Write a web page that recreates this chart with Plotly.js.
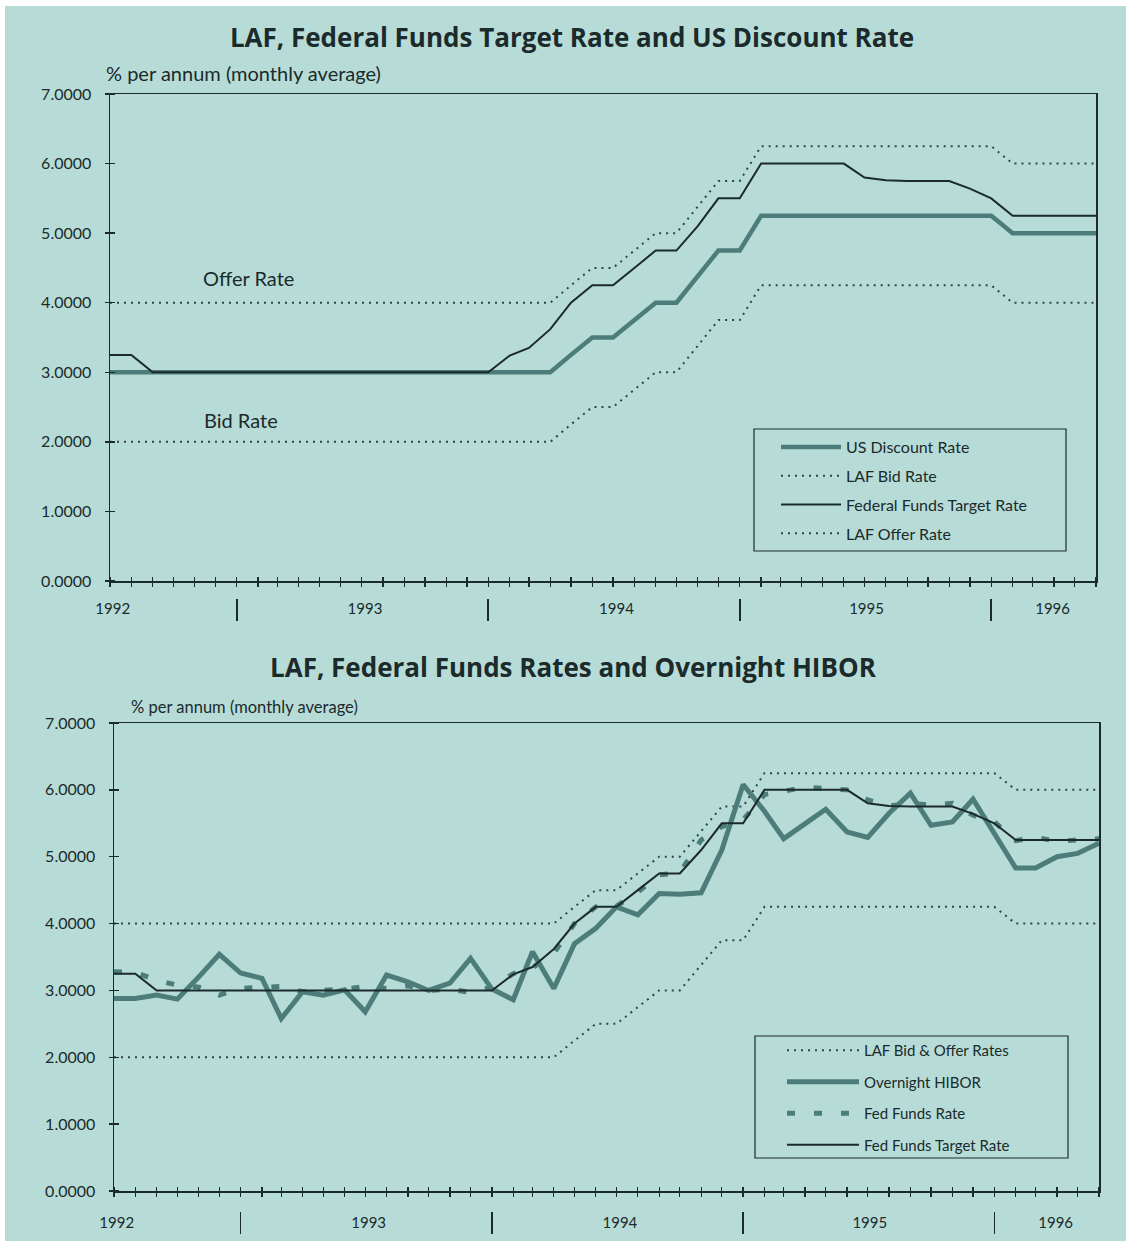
<!DOCTYPE html>
<html><head><meta charset="utf-8">
<script src="https://cdn.plot.ly/plotly-3.0.1.min.js"></script>
<style>
html,body{margin:0;padding:0;background:#ffffff;}
#chart{position:absolute;left:5px;top:6px;width:1121px;height:1235px;}
</style></head><body><div id="chart"></div>
<script>
// ---------- data (monthly averages, % per annum) ----------
const months = [
 '1992-07','1992-08','1992-09','1992-10','1992-11','1992-12',
 '1993-01','1993-02','1993-03','1993-04','1993-05','1993-06','1993-07','1993-08','1993-09','1993-10','1993-11','1993-12',
 '1994-01','1994-02','1994-03','1994-04','1994-05','1994-06','1994-07','1994-08','1994-09','1994-10','1994-11','1994-12',
 '1995-01','1995-02','1995-03','1995-04','1995-05','1995-06','1995-07','1995-08','1995-09','1995-10','1995-11','1995-12',
 '1996-01','1996-02','1996-03','1996-04','1996-05','1996-06'];

const usDiscount = [
 3.00,3.00,3.00,3.00,3.00,3.00,
 3.00,3.00,3.00,3.00,3.00,3.00,3.00,3.00,3.00,3.00,3.00,3.00,
 3.00,3.00,3.00,3.00,3.25,3.50,3.50,3.75,4.00,4.00,4.38,4.75,
 4.75,5.25,5.25,5.25,5.25,5.25,5.25,5.25,5.25,5.25,5.25,5.25,
 5.25,5.00,5.00,5.00,5.00,5.00];

const lafBid = [
 2.00,2.00,2.00,2.00,2.00,2.00,
 2.00,2.00,2.00,2.00,2.00,2.00,2.00,2.00,2.00,2.00,2.00,2.00,
 2.00,2.00,2.00,2.00,2.25,2.50,2.50,2.75,3.00,3.00,3.38,3.75,
 3.75,4.25,4.25,4.25,4.25,4.25,4.25,4.25,4.25,4.25,4.25,4.25,
 4.25,4.00,4.00,4.00,4.00,4.00];

const lafOffer = [
 4.00,4.00,4.00,4.00,4.00,4.00,
 4.00,4.00,4.00,4.00,4.00,4.00,4.00,4.00,4.00,4.00,4.00,4.00,
 4.00,4.00,4.00,4.00,4.25,4.50,4.50,4.75,5.00,5.00,5.38,5.75,
 5.75,6.25,6.25,6.25,6.25,6.25,6.25,6.25,6.25,6.25,6.25,6.25,
 6.25,6.00,6.00,6.00,6.00,6.00];

const fedTarget = [
 3.25,3.25,3.00,3.00,3.00,3.00,
 3.00,3.00,3.00,3.00,3.00,3.00,3.00,3.00,3.00,3.00,3.00,3.00,
 3.00,3.24,3.35,3.62,4.00,4.25,4.25,4.50,4.75,4.75,5.10,5.50,
 5.50,6.00,6.00,6.00,6.00,6.00,5.80,5.76,5.75,5.75,5.75,5.64,
 5.50,5.25,5.25,5.25,5.25,5.25];

const fedFunds = [
 3.28,3.27,3.15,3.08,3.05,2.93,
 3.03,3.04,3.06,2.98,3.00,3.02,3.06,3.03,3.07,3.00,3.02,2.97,
 3.05,3.25,3.34,3.56,4.00,4.25,4.26,4.47,4.73,4.76,5.25,5.45,
 5.55,5.93,5.98,6.04,6.02,6.00,5.85,5.76,5.80,5.77,5.80,5.62,
 5.52,5.24,5.29,5.23,5.25,5.27];

const hibor = [
 2.88,2.88,2.93,2.87,3.20,3.54,
 3.26,3.18,2.58,2.98,2.93,3.01,2.68,3.23,3.13,3.00,3.11,3.48,
 3.02,2.86,3.58,3.03,3.70,3.93,4.25,4.13,4.45,4.44,4.46,5.10,
 6.08,5.68,5.27,5.49,5.71,5.37,5.29,5.65,5.95,5.47,5.52,5.86,
 5.35,4.83,4.83,5.00,5.05,5.20];

const yearLabels = ['1992','1993','1994','1995','1996'];
const yearStarts = ['1993-01-01','1994-01-01','1995-01-01','1996-01-01'];
const yTickVals = [0,1,2,3,4,5,6,7];

// ---------- geometry helpers (pixel -> paper) ----------
const W = 1121, H = 1235, OX = 5, OY = 6;
const fx = p => (p - OX) / W;
const fy = p => 1 - (p - OY) / H;

const FONT = 'Lato, "Open Sans", "DejaVu Sans", sans-serif';
const TFONT = '"Open Sans", Lato, sans-serif';
const BG = '#b7dcd8';
const TEAL = '#4d7d7a';
const DARK = '#1b2a2a';
const DOTC = '#2c4645';
const DOT = '2px,5px';
const RANGE = ['1992-07-01','1996-06-01'];
const yearLabelPos = ['1992-07-05','1993-07-06','1994-07-06','1995-07-04','1996-03-30'];

function tr(y, name, xa, ya, leg, group, rank, line, showlegend) {
  return {x: months, y: y, name: name, type: 'scatter', mode: 'lines',
    xaxis: xa, yaxis: ya, legend: leg, legendgroup: group, legendrank: rank,
    showlegend: showlegend !== false, line: line, hoverinfo: 'skip'};
}
// empty carrier traces so that the tick-only overlay axes get drawn
function carrier(xa, ya) {
  return {x: [], y: [], type: 'scatter', mode: 'lines', xaxis: xa, yaxis: ya,
    showlegend: false, hoverinfo: 'skip'};
}

const data = [
  tr(usDiscount, 'US Discount Rate', 'x', 'y', 'legend', 'a', 1, {color: TEAL, width: 4.5}),
  tr(lafBid, 'LAF Bid Rate', 'x', 'y', 'legend', 'b', 2, {color: DOTC, width: 2, dash: DOT}),
  tr(lafOffer, 'LAF Offer Rate', 'x', 'y', 'legend', 'd', 4, {color: DOTC, width: 2, dash: DOT}),
  tr(fedTarget, 'Federal Funds Target Rate', 'x', 'y', 'legend', 'c', 3, {color: DARK, width: 2}),

  tr(lafBid, 'LAF Bid & Offer Rates', 'x2', 'y2', 'legend2', 'e', 1, {color: DOTC, width: 2, dash: DOT}),
  tr(lafOffer, 'LAF Offer Rate', 'x2', 'y2', 'legend2', 'e', 1, {color: DOTC, width: 2, dash: DOT}, false),
  tr(fedFunds, 'Fed Funds Rate', 'x2', 'y2', 'legend2', 'g', 3, {color: TEAL, width: 5, dash: '8px,19px'}),
  tr(hibor, 'Overnight HIBOR', 'x2', 'y2', 'legend2', 'f', 2, {color: TEAL, width: 5}),
  tr(fedTarget, 'Fed Funds Target Rate', 'x2', 'y2', 'legend2', 'h', 4, {color: DARK, width: 2}),

  carrier('x3', 'y'), carrier('x5', 'y'), carrier('x', 'y3'),
  carrier('x4', 'y2'), carrier('x6', 'y2'), carrier('x2', 'y4')
];

function mainX(dom, anchor, lblLen) {
  return {domain: dom, anchor: anchor, type: 'date', range: RANGE, showline: true, mirror: true,
    linecolor: DARK, linewidth: 1.5, showgrid: false, zeroline: false,
    tickmode: 'array', tickvals: yearLabelPos, ticktext: yearLabels,
    ticks: 'outside', ticklen: lblLen, tickcolor: 'rgba(0,0,0,0)',
    tickfont: {family: FONT, size: 15, color: DARK}};
}
function tickX(over, pos, vals, len, w) {
  return {overlaying: over, anchor: 'free', position: pos, type: 'date', range: RANGE,
    showline: false, showgrid: false, zeroline: false, showticklabels: false,
    tickmode: 'array', tickvals: vals, ticks: 'outside', ticklen: len, tickwidth: w, tickcolor: DARK};
}
function mainY(dom, anchor) {
  return {domain: dom, anchor: anchor, range: [0, 7], showline: true, mirror: true,
    linecolor: DARK, linewidth: 1.5, showgrid: false, zeroline: false,
    tickmode: 'array', tickvals: yTickVals, tickformat: '.4f',
    ticks: 'outside', ticklen: 14, tickcolor: 'rgba(0,0,0,0)',
    tickfont: {family: FONT, size: 16, color: DARK}};
}
function tickY(over, pos) {
  return {overlaying: over, anchor: 'free', position: pos, side: 'left', range: [0, 7],
    showline: false, showgrid: false, zeroline: false, showticklabels: false,
    tickmode: 'array', tickvals: yTickVals, ticks: 'outside', ticklen: 10, tickwidth: 1.3, tickcolor: DARK};
}

const legendBase = {xanchor: 'left', yanchor: 'top', bgcolor: 'rgba(0,0,0,0)',
  borderwidth: 0, traceorder: 'grouped'};

// legend frames
function frame(x0, x1, y0, y1) {
  return {type: 'rect', xref: 'paper', yref: 'paper', x0: fx(x0), x1: fx(x1), y0: fy(y1), y1: fy(y0),
    line: {color: DARK, width: 1.2}, fillcolor: 'rgba(0,0,0,0)', layer: 'above'};
}

const layout = {
  width: 1121, height: 1235,
  margin: {l: 0, r: 0, t: 0, b: 0},
  paper_bgcolor: BG, plot_bgcolor: 'rgba(0,0,0,0)',
  font: {family: FONT, color: DARK},
  showlegend: true,
  title: {text: 'LAF, Federal Funds Target Rate and US Discount Rate',
    x: fx(572), xanchor: 'center', y: fy(38), yanchor: 'middle',
    font: {family: TFONT, size: 26, weight: 700, color: DARK}},

  xaxis: mainX([fx(110), fx(1096)], 'y', 13),
  yaxis: mainY([fy(581), fy(94)], 'x'),
  xaxis3: tickX('x', fy(576), months, 10, 1.3),
  xaxis5: tickX('x', fy(598), yearStarts, 22, 1.6),
  yaxis3: tickY('y', fx(115)),

  xaxis2: mainX([fx(114), fx(1099)], 'y2', 17),
  yaxis2: mainY([fy(1191), fy(723)], 'x2'),
  xaxis4: tickX('x2', fy(1186), months, 10, 1.3),
  xaxis6: tickX('x2', fy(1211), yearStarts, 22, 1.6),
  yaxis4: tickY('y2', fx(119)),

  legend: Object.assign({}, legendBase, {x: fx(754), y: fy(430),
    font: {family: FONT, size: 16, color: DARK}, tracegroupgap: 5,
    indentation: 22, itemwidth: 60}),
  legend2: Object.assign({}, legendBase, {x: fx(755), y: fy(1034),
    font: {family: FONT, size: 15, color: DARK}, tracegroupgap: 9,
    indentation: 27, itemwidth: 72}),

  shapes: [frame(754, 1066, 429, 551), frame(755, 1068, 1036, 1158)],

  annotations: [
    {text: 'LAF, Federal Funds Rates and Overnight HIBOR', xref: 'paper', yref: 'paper',
      x: fx(573), y: fy(667), xanchor: 'center', yanchor: 'middle', showarrow: false,
      font: {family: TFONT, size: 26, weight: 700, color: DARK}},
    {text: '% per annum (monthly average)', xref: 'paper', yref: 'paper',
      x: fx(104), y: fy(73), xanchor: 'left', yanchor: 'middle', showarrow: false,
      font: {family: FONT, size: 20, color: DARK}},
    {text: '% per annum (monthly average)', xref: 'paper', yref: 'paper',
      x: fx(129), y: fy(707), xanchor: 'left', yanchor: 'middle', showarrow: false,
      font: {family: FONT, size: 16.5, color: DARK}},
    {text: 'Offer Rate', xref: 'x', yref: 'y', x: '1992-11-10', y: 4.35,
      xanchor: 'left', yanchor: 'middle', showarrow: false,
      font: {family: FONT, size: 20, color: DARK}},
    {text: 'Bid Rate', xref: 'x', yref: 'y', x: '1992-11-12', y: 2.31,
      xanchor: 'left', yanchor: 'middle', showarrow: false,
      font: {family: FONT, size: 20, color: DARK}}
  ]
};

Plotly.newPlot('chart', data, layout, {staticPlot: true, displayModeBar: false});
</script></body></html>
